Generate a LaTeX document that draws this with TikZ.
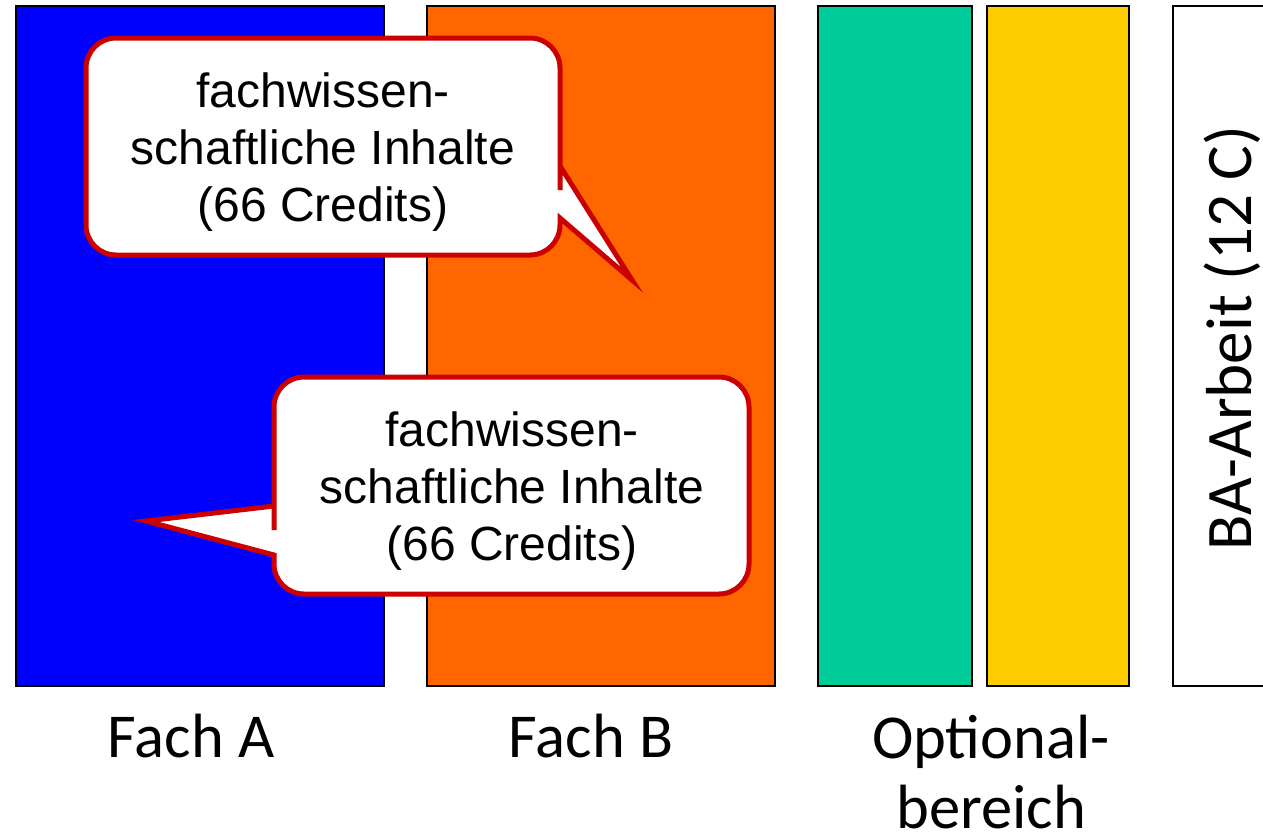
\documentclass[tikz,border=0pt]{standalone}
\usepackage{fontspec}
\setmainfont{Liberation Sans}
\newfontfamily\labelfont{Carlito}
\usepackage{tikz}
\definecolor{fachblue}{RGB}{0,0,255}
\definecolor{fachorange}{RGB}{255,102,0}
\definecolor{optgreen}{RGB}{0,204,153}
\definecolor{optyellow}{RGB}{255,204,0}
\definecolor{bubblered}{RGB}{204,0,0}
\tikzset{
  column/.style={draw=black,line width=2pt,fill=#1},
  bubble/.style={draw=bubblered,line width=5pt,fill=white},
  bubbletext/.style={align=center,font=\fontsize{48}{57}\selectfont},
  caption/.style={font=\labelfont\fontsize{62.5}{70}\selectfont,anchor=base}
}

\begin{document}
\begin{tikzpicture}[x=1pt,y=-1pt]
    \useasboundingbox (0,0) rectangle (1263,839);

    \draw [column=fachblue] (16,6) rectangle (384,686);
    \draw [column=fachorange] (427,6) rectangle (775,686);
    \draw [column=optgreen] (818,6) rectangle (972,686);
    \draw [column=optyellow] (987,6) rectangle (1129,686);
    \draw [column=white] (1173,6) rectangle (1290,686);

    \draw [bubble] (632,280) -- (560,218) -- (560,224) [rounded corners=30pt]
      -- (560,255) -- (86,255) -- (86,38) -- (560,38) -- (560,160)
      [sharp corners] -- (560,166) -- cycle;
    \node [bubbletext] (upperinfo) at (323,152) {fachwissen-\\schaftliche Inhalte\\(66 Credits)};

    \draw [bubble] (146,521) -- (274,555) -- (274,560) [rounded corners=30pt]
      -- (274,594) -- (749,594) -- (749,377) -- (274,377) -- (274,500)
      [sharp corners] -- (274,506) -- cycle;
    \node [bubbletext] (lowerinfo) at (512,491) {fachwissen-\\schaftliche Inhalte\\(66 Credits)};

    \node [caption] (facha) at (191,757) {Fach A};
    \node [caption] (fachb) at (591,757) {Fach B};
    \node [caption, align=center] (optional) at (991,828) {Optional-\\bereich};
    \node [caption, rotate=90, font=\labelfont\fontsize{65}{70}\selectfont] (baarbeit) at (1251,338) {BA-Arbeit (12 C)};
\end{tikzpicture}
\end{document}
